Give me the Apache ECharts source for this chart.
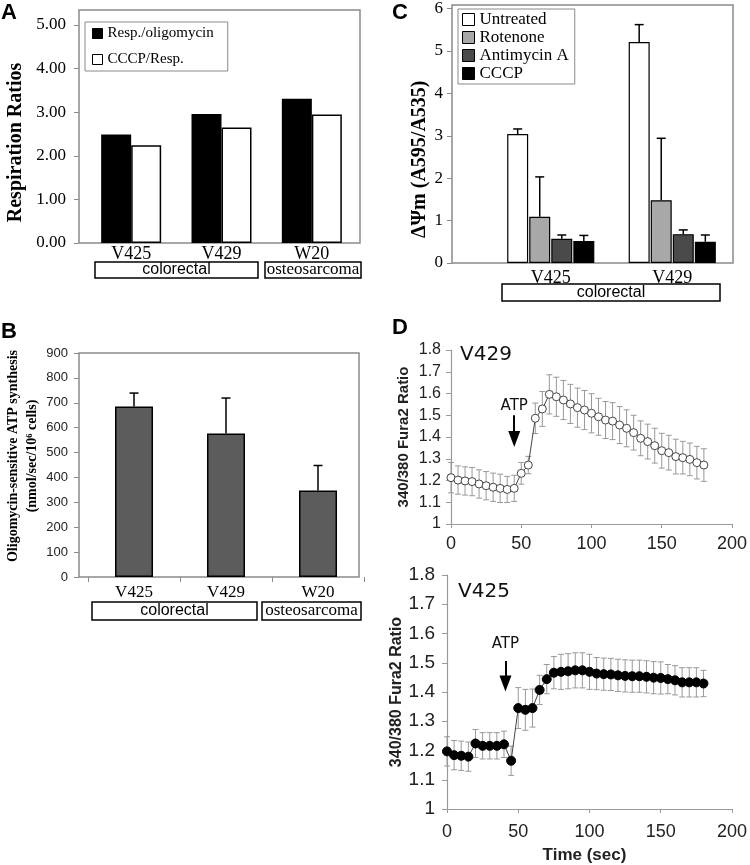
<!DOCTYPE html>
<html>
<head>
<meta charset="utf-8">
<script src="https://cdn.jsdelivr.net/npm/echarts@6/dist/echarts.min.js"></script>
<style>
  html, body { margin: 0; padding: 0; background: #fff; }
  #chart { width: 750px; height: 865px; }
</style>
</head>
<body>
<div id="chart"></div>
<script>
// panel A - respiration ratios
const cellLines = ['V425', 'V429', 'W20'];
const respOligo = [2.49, 2.96, 3.31];
const cccpResp = [2.24, 2.65, 2.95];
const ratioTicks = [0, 1, 2, 3, 4, 5];

// panel B - oligomycin-sensitive ATP synthesis
const atpSynth = [685, 577, 348];
const atpSynthErr = [54, 142, 100];

// panel C - membrane potential
const psiLines = ['V425', 'V429'];
const psiNames = ['Untreated', 'Rotenone', 'Antimycin A', 'CCCP'];
const psiUntreated = [3.04, 5.21];
const psiUntreatedErr = [0.12, 0.41];
const psiRotenone = [1.09, 1.48];
const psiRotenoneErr = [0.94, 1.46];
const psiAntimycin = [0.57, 0.68];
const psiAntimycinErr = [0.09, 0.10];
const psiCccp = [0.52, 0.50];
const psiCccpErr = [0.13, 0.16];

// panel D - Fura2 calcium traces
const times = [0, 5, 10, 15, 20, 25, 30, 35, 40, 45, 50, 55, 60, 65, 70, 75, 80, 85, 90,
  95, 100, 105, 110, 115, 120, 125, 130, 135, 140, 145, 150, 155, 160, 165, 170, 175, 180];
const v429Ratio = [1.213, 1.202, 1.198, 1.195, 1.184, 1.176, 1.169, 1.164, 1.159, 1.164,
  1.233, 1.271, 1.486, 1.529, 1.596, 1.585, 1.570, 1.552, 1.535, 1.524, 1.509, 1.493,
  1.478, 1.473, 1.455, 1.440, 1.420, 1.394, 1.379, 1.360, 1.337, 1.328, 1.310, 1.305,
  1.297, 1.282, 1.271];
const v429Err = [0.07, 0.065, 0.065, 0.065, 0.065, 0.065, 0.065, 0.065, 0.06, 0.06,
  0.05, 0.04, 0.07, 0.08, 0.09, 0.09, 0.09, 0.09, 0.09, 0.09, 0.09, 0.085, 0.085,
  0.085, 0.085, 0.085, 0.08, 0.08, 0.08, 0.08, 0.08, 0.08, 0.08, 0.075, 0.075, 0.075, 0.075];
const v425Ratio = [1.197, 1.184, 1.182, 1.179, 1.224, 1.216, 1.216, 1.216, 1.221, 1.165,
  1.345, 1.339, 1.345, 1.407, 1.444, 1.466, 1.469, 1.471, 1.474, 1.474, 1.469, 1.463,
  1.461, 1.460, 1.457, 1.455, 1.454, 1.454, 1.452, 1.449, 1.448, 1.444, 1.440, 1.433,
  1.433, 1.433, 1.429];
const v425Err = [0.05, 0.05, 0.05, 0.05, 0.048, 0.045, 0.045, 0.045, 0.045, 0.05,
  0.07, 0.07, 0.065, 0.05, 0.05, 0.055, 0.06, 0.06, 0.06, 0.06, 0.06, 0.055, 0.055,
  0.055, 0.055, 0.055, 0.055, 0.055, 0.055, 0.055, 0.055, 0.05, 0.05, 0.05, 0.05, 0.05, 0.045];
const atpTop = { time: 45, from: 1.50, to: 1.391, text: 1.543 };
const atpBottom = { time: 41, from: 1.506, to: 1.429, text: 1.564 };

const SERIF = '"Liberation Serif", "Times New Roman", serif';
const SANS = '"Liberation Sans", Arial, sans-serif';
const DEJAVU = '"DejaVu Sans", Verdana, sans-serif';

const chart = echarts.init(document.getElementById('chart'));

// upward-only error bar, slot offset for grouped bars
function upError(slotOffset) {
  return function (params, api) {
    const m = api.value(1);
    const base = api.coord([api.value(0), m]);
    const top = api.coord([api.value(0), m + api.value(2)]);
    const cx = base[0] + slotOffset(api.value(3));
    const st = { stroke: '#000', lineWidth: 1.5 };
    return {
      type: 'group',
      children: [
        { type: 'line', shape: { x1: cx, y1: base[1], x2: cx, y2: top[1] }, style: st },
        { type: 'line', shape: { x1: cx - 4.5, y1: top[1], x2: cx + 4.5, y2: top[1] }, style: st }
      ]
    };
  };
}

function bothError(params, api) {
  const t = api.value(0), m = api.value(1), e = api.value(2);
  const hi = api.coord([t, m + e]);
  const lo = api.coord([t, m - e]);
  const st = { stroke: '#999', lineWidth: 1 };
  return {
    type: 'group',
    children: [
      { type: 'line', shape: { x1: hi[0], y1: hi[1], x2: lo[0], y2: lo[1] }, style: st },
      { type: 'line', shape: { x1: hi[0] - 3, y1: hi[1], x2: hi[0] + 3, y2: hi[1] }, style: st },
      { type: 'line', shape: { x1: lo[0] - 3, y1: lo[1], x2: lo[0] + 3, y2: lo[1] }, style: st }
    ]
  };
}

const psiBarW = 21;
const psiGap = 0.05;
const psiSlot = (i) => (i - 1.5) * psiBarW * (1 + psiGap);

const psiMeans = [psiUntreated, psiRotenone, psiAntimycin, psiCccp];
const psiErrs = [psiUntreatedErr, psiRotenoneErr, psiAntimycinErr, psiCccpErr];
const psiColors = ['#ffffff', '#a8a8a8', '#4a4a4a', '#000000'];
const psiErrData = [];
psiMeans.forEach((arr, s) => arr.forEach((v, c) => psiErrData.push([c, v, psiErrs[s][c], s])));

function groupBox(x, y, w, h, label, font) {
  return {
    type: 'group',
    children: [
      { type: 'rect', shape: { x: x, y: y, width: w, height: h }, style: { fill: '#fff', stroke: '#000', lineWidth: 1.5 } },
      { type: 'text', x: x + w / 2, y: y + h / 2, style: { text: label, font: font, fill: '#000', align: 'center', verticalAlign: 'middle' } }
    ]
  };
}

function frame(x, y, w, h) {
  return { type: 'rect', z: 0, shape: { x: x, y: y, width: w, height: h }, style: { fill: 'none', stroke: '#8a8a8a', lineWidth: 1.5 } };
}

function letter(ch, x, y) {
  return { type: 'text', x: x, y: y, style: { text: ch, font: 'bold 22px ' + SANS, fill: '#000', align: 'center', verticalAlign: 'middle' } };
}

function atpArrow(a) {
  return {
    silent: true, symbol: ['none', 'triangle'], symbolSize: [12, 16], symbolRotate: 180,
    label: { show: false },
    lineStyle: { color: '#000', width: 2, type: 'solid' },
    itemStyle: { color: '#000' },
    data: [[{ coord: [a.time, a.from] }, { coord: [a.time, a.to] }]]
  };
}

function atpLabel(a) {
  return {
    silent: true, symbol: 'rect', symbolSize: 1, itemStyle: { color: 'rgba(0,0,0,0)' },
    label: { show: true, position: 'inside', formatter: 'ATP', fontFamily: DEJAVU, fontSize: 15, color: '#111' },
    data: [{ coord: [a.time, a.text] }]
  };
}

const dAxisLine = { lineStyle: { color: '#9a9a9a', width: 1.2 } };

chart.setOption({
  animation: false,
  grid: [
    { left: 86, right: 393, top: 25, bottom: 622 },   // A
    { left: 88, right: 386, top: 353, bottom: 288 },  // B
    { left: 490, right: 17, top: 6, bottom: 602 },    // C
    { left: 451, right: 9, top: 350, bottom: 341 },   // D V429
    { left: 447, right: 17, top: 575, bottom: 53 }    // D V425
  ],
  legend: [
    {
      orient: 'vertical', left: 85, top: 22, icon: 'rect', itemWidth: 10, itemHeight: 10, itemGap: 11,
      padding: [4, 14, 4, 7], borderColor: '#8a8a8a', borderWidth: 1, selectedMode: false,
      data: ['Resp./oligomycin', 'CCCP/Resp.'],
      itemStyle: { borderColor: '#000', borderWidth: 1 },
      textStyle: { fontFamily: SERIF, fontSize: 15, color: '#000' }
    },
    {
      orient: 'vertical', left: 458, top: 9, icon: 'rect', itemWidth: 12, itemHeight: 12, itemGap: 1,
      padding: [2, 6, 2, 4], borderColor: '#8a8a8a', borderWidth: 1, selectedMode: false,
      data: psiNames,
      itemStyle: { borderColor: '#000', borderWidth: 1 },
      textStyle: { fontFamily: SERIF, fontSize: 17, color: '#000', lineHeight: 16 }
    }
  ],
  xAxis: [
    {
      gridIndex: 0, type: 'category', data: cellLines,
      axisLine: { show: false }, axisTick: { show: false },
      axisLabel: { fontFamily: SERIF, fontSize: 18, color: '#000', margin: 2 }
    },
    {
      gridIndex: 1, type: 'category', data: cellLines,
      axisLine: { show: false },
      axisTick: { show: true, length: 5, lineStyle: { color: '#8a8a8a' } },
      axisLabel: { fontFamily: SERIF, fontSize: 17, color: '#000', margin: 7 }
    },
    {
      gridIndex: 2, type: 'category', data: psiLines,
      axisLine: { show: false }, axisTick: { show: false },
      axisLabel: { fontFamily: SERIF, fontSize: 18, color: '#000', margin: 6 }
    },
    {
      gridIndex: 3, type: 'value', min: 0, max: 200, interval: 50,
      axisLine: dAxisLine, splitLine: { show: false },
      axisTick: { length: 4, lineStyle: { color: '#9a9a9a' } },
      axisLabel: { fontFamily: SANS, fontSize: 18, color: '#222', margin: 11 }
    },
    {
      gridIndex: 4, type: 'value', min: 0, max: 200, interval: 50,
      axisLine: dAxisLine, splitLine: { show: false },
      axisTick: { length: 4, lineStyle: { color: '#9a9a9a' } },
      axisLabel: { fontFamily: SANS, fontSize: 18, color: '#222', margin: 14 },
      name: 'Time (sec)', nameLocation: 'middle', nameGap: 38,
      nameTextStyle: { fontFamily: SANS, fontSize: 17, fontWeight: 'bold', color: '#222', padding: [0, 10, 0, 0] }
    }
  ],
  yAxis: [
    {
      gridIndex: 0, type: 'value', min: ratioTicks[0], max: ratioTicks[ratioTicks.length - 1], interval: 1, offset: 7,
      axisLine: { show: false }, splitLine: { show: false },
      axisTick: { show: true, length: 5, lineStyle: { color: '#8a8a8a' } },
      axisLabel: { fontFamily: SERIF, fontSize: 17, color: '#000', margin: 13, formatter: (v) => v.toFixed(2) },
      name: 'Respiration Ratios', nameLocation: 'middle', nameGap: 53,
      nameTextStyle: { fontFamily: SERIF, fontSize: 20, fontWeight: 'bold', color: '#000', padding: [0, 17, 0, 0] }
    },
    {
      gridIndex: 1, type: 'value', min: 0, max: 900, interval: 100, offset: 9,
      axisLine: { show: false }, splitLine: { show: false },
      axisTick: { show: true, length: 5, lineStyle: { color: '#8a8a8a' } },
      axisLabel: { fontFamily: SANS, fontSize: 13, color: '#222', margin: 11 },
      name: 'Oligomycin-sensitive ATP synthesis\n(nmol/sec/10\u2076 cells)', nameLocation: 'middle', nameGap: 37,
      nameTextStyle: { fontFamily: SERIF, fontSize: 14, fontWeight: 'bold', color: '#000', lineHeight: 19, padding: [0, 0, 0, 18] }
    },
    {
      gridIndex: 2, type: 'value', min: 0, max: 6, interval: 1, offset: 38,
      axisLine: { show: false }, splitLine: { show: false },
      axisTick: { show: true, length: 5, lineStyle: { color: '#8a8a8a' } },
      axisLabel: { fontFamily: SERIF, fontSize: 17, color: '#000', margin: 9 },
      name: '\u0394\u03a8m (A595/A535)', nameLocation: 'middle', nameGap: 22,
      nameTextStyle: { fontFamily: SERIF, fontSize: 20, fontWeight: 'bold', color: '#000', padding: [0, 47, 0, 0] }
    },
    {
      gridIndex: 3, type: 'value', min: 1, max: 1.8, interval: 0.1,
      axisLine: dAxisLine, splitLine: { show: false },
      axisTick: { show: true, length: 5, lineStyle: { color: '#9a9a9a' } },
      axisLabel: { fontFamily: SANS, fontSize: 16, color: '#222', margin: 10 },
      name: '340/380 Fura2 Ratio', nameLocation: 'middle', nameGap: 40,
      nameTextStyle: { fontFamily: SANS, fontSize: 15, fontWeight: 'bold', color: '#222' }
    },
    {
      gridIndex: 4, type: 'value', min: 1, max: 1.8, interval: 0.1,
      axisLine: dAxisLine, splitLine: { show: false },
      axisTick: { show: true, length: 5, lineStyle: { color: '#9a9a9a' } },
      axisLabel: { fontFamily: SANS, fontSize: 19, color: '#222', margin: 12 },
      name: '340/380 Fura2 Ratio', nameLocation: 'middle', nameGap: 42,
      nameTextStyle: { fontFamily: SANS, fontSize: 16, fontWeight: 'bold', color: '#222' }
    }
  ],
  graphic: [
    frame(79, 10, 281, 233),
    frame(79, 353, 280, 224),
    frame(452, 5, 281, 258),
    groupBox(95, 262, 163, 16, 'colorectal', '16px ' + SANS),
    groupBox(265, 262, 96, 16, 'osteosarcoma', '17px ' + SERIF),
    groupBox(92, 602, 165, 18, 'colorectal', '16px ' + SANS),
    groupBox(262, 602, 99, 18, 'osteosarcoma', '17px ' + SERIF),
    groupBox(502, 284, 218, 17, 'colorectal', '16px ' + SANS),
    letter('A', 9, 13),
    letter('B', 9, 332),
    letter('C', 400, 13),
    letter('D', 400, 328),
    { type: 'text', x: 460, y: 355, style: { text: 'V429', font: '20px ' + DEJAVU, fill: '#111', verticalAlign: 'middle' } },
    { type: 'text', x: 458, y: 592, style: { text: 'V425', font: '20px ' + DEJAVU, fill: '#111', verticalAlign: 'middle' } }
  ],
  series: [
    {
      name: 'Resp./oligomycin', type: 'bar', xAxisIndex: 0, yAxisIndex: 0, data: respOligo,
      barWidth: 30, barGap: '0%', itemStyle: { color: '#000', borderColor: '#000', borderWidth: 1.5 }
    },
    {
      name: 'CCCP/Resp.', type: 'bar', xAxisIndex: 0, yAxisIndex: 0, data: cccpResp,
      barWidth: 30, barGap: '0%', itemStyle: { color: '#fff', borderColor: '#000', borderWidth: 1.5 }
    },
    {
      type: 'bar', xAxisIndex: 1, yAxisIndex: 1, data: atpSynth, barWidth: 38,
      itemStyle: { color: '#5c5c5c', borderColor: '#000', borderWidth: 1.5 }
    },
    {
      type: 'custom', xAxisIndex: 1, yAxisIndex: 1, z: 3,
      data: atpSynth.map((v, i) => [i, v, atpSynthErr[i], 0]),
      renderItem: upError(() => 0)
    },
    ...psiNames.map((name, s) => ({
      name: name, type: 'bar', xAxisIndex: 2, yAxisIndex: 2, data: psiMeans[s],
      barWidth: psiBarW, barGap: (psiGap * 100) + '%',
      itemStyle: { color: psiColors[s], borderColor: '#000', borderWidth: 1.2 }
    })),
    {
      type: 'custom', xAxisIndex: 2, yAxisIndex: 2, z: 3,
      data: psiErrData,
      renderItem: upError(psiSlot)
    },
    {
      type: 'custom', xAxisIndex: 3, yAxisIndex: 3, z: 1,
      data: times.map((t, i) => [t, v429Ratio[i], v429Err[i]]),
      renderItem: bothError
    },
    {
      name: 'V429', type: 'line', xAxisIndex: 3, yAxisIndex: 3, z: 3,
      data: times.map((t, i) => [t, v429Ratio[i]]),
      symbol: 'circle', symbolSize: 8,
      itemStyle: { color: '#fff', borderColor: '#444', borderWidth: 1 },
      lineStyle: { color: '#444', width: 1 },
      markLine: atpArrow(atpTop),
      markPoint: atpLabel(atpTop)
    },
    {
      type: 'custom', xAxisIndex: 4, yAxisIndex: 4, z: 1,
      data: times.map((t, i) => [t, v425Ratio[i], v425Err[i]]),
      renderItem: bothError
    },
    {
      name: 'V425', type: 'line', xAxisIndex: 4, yAxisIndex: 4, z: 3,
      data: times.map((t, i) => [t, v425Ratio[i]]),
      symbol: 'circle', symbolSize: 9,
      itemStyle: { color: '#000', borderColor: '#000', borderWidth: 1 },
      lineStyle: { color: '#444', width: 1 },
      markLine: atpArrow(atpBottom),
      markPoint: atpLabel(atpBottom)
    }
  ]
});
</script>
</body>
</html>
